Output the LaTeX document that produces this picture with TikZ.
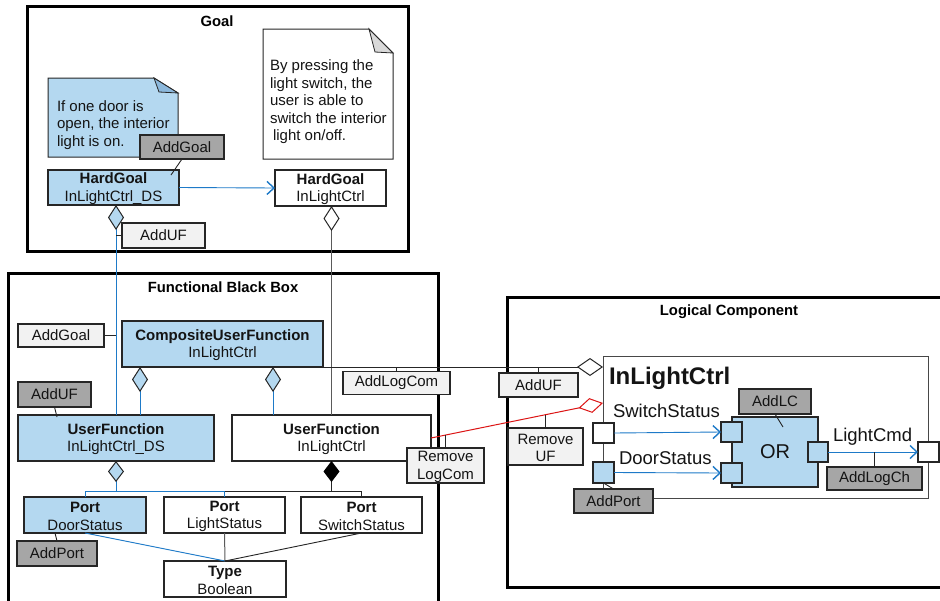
\documentclass[tikz,border=0pt]{standalone}
\usepackage{fontspec}
\setmainfont{Liberation Sans}
\usetikzlibrary{arrows.meta,calc}
\definecolor{lblue}{RGB}{180,216,240}
\definecolor{dblue}{RGB}{140,184,220}
\definecolor{lnblue}{RGB}{30,122,200}
\definecolor{dgrey}{RGB}{166,166,166}
\definecolor{lgrey}{RGB}{242,242,242}
\definecolor{edge}{RGB}{38,38,38}
\definecolor{txtc}{RGB}{20,20,20}
\definecolor{gline}{RGB}{90,90,90}
\definecolor{foldgrey}{RGB}{217,217,217}
\definecolor{redl}{RGB}{220,20,20}
\newcommand{\flstrut}{\rule{0pt}{13.5pt}}
\begin{document}
\begin{tikzpicture}[x=1pt,y=-1pt,line join=miter,
  every node/.style={font=\fontsize{15}{17.5}\selectfont,text=txtc,inner sep=0pt,outer sep=0pt},
  bx/.style 2 args={draw=edge,line width=1.1pt,minimum width=#1,minimum height=#2,align=center},
  bluebox/.style={fill=lblue},
  dbox/.style={fill=dgrey},
  lbox/.style={fill=lgrey},
  wbox/.style={fill=white},
  frame/.style={draw=black,line width=3pt},
  title/.style={font=\fontsize{14.8}{18}\selectfont\bfseries,text=black},
  conn/.style={draw=edge,line width=0.9pt},
  bconn/.style={draw=lnblue,line width=0.9pt},
  gconn/.style={draw=gline,line width=1pt},
  rconn/.style={draw=redl,line width=1pt},
  barb/.style={-{Straight Barb[length=7pt,width=13pt,line width=1.4pt]}},
  dmdBA/.style={-{Diamond[length=25pt,width=16pt,color=edge,fill=lblue,line width=1pt]}},
  dmdWA/.style={-{Diamond[length=25pt,width=16pt,color=edge,fill=white,line width=1pt]}},
  dmdBB/.style={-{Diamond[length=21pt,width=16pt,color=edge,fill=lblue,line width=1pt]}},
  dmdKB/.style={-{Diamond[length=21pt,width=16pt,color=black,fill=black,line width=1pt]}},
  dmdWC/.style={-{Diamond[length=26pt,width=18pt,color=edge,fill=white,line width=1pt]}},
  dmdRC/.style={-{Diamond[length=25pt,width=15pt,color=redl,fill=white,line width=1pt]}},
  small/.style={font=\fontsize{18.5}{22}\selectfont},
]
\useasboundingbox (0,0) rectangle (940,600);
\clip (0,0) rectangle (940,600);
\fill[white] (0,0) rectangle (940,600);

% frames
\draw[frame] (27,6) rectangle (408,251);
\draw[frame] (8,273) rectangle (438,615);
\draw[frame] (507,297) rectangle (960,587);
\node[title] (tGoal) at (217,21) {Goal};
\node[title] (tFBB) at (223,287) {Functional Black Box};
\node[title] (tLC) at (729,312) {Logical Component};

% notes
\draw[draw=edge,line width=1pt,fill=lblue] (48,78) -- (154,78) -- (178,93) -- (178,157) -- (48,157) -- cycle;
\draw[draw=edge,line width=0.8pt,fill=dblue] (154,78) -- (178,93) -- (159,92) -- cycle;
\node[anchor=west,align=left] (note1) at (57,125) {If one door is\\open, the interior\\light is on.};
\draw[draw=edge,line width=1pt,fill=white] (263,29) -- (369,29) -- (393,53) -- (393,159) -- (263,159) -- cycle;
\draw[draw=edge,line width=0.8pt,fill=foldgrey] (369,29) -- (393,53) -- (375,52) -- cycle;
\node[anchor=west,align=left] (note2) at (270,102) {By pressing the\\light switch, the\\user is able to\\switch the interior\\\hspace{3pt}light on/off.};

% Goal nodes
\node[bx={84}{24},dbox] (AG1) at (182,147) {AddGoal};
\node[bx={131}{35},bluebox] (HGDS) at (113.5,187.5) {\flstrut\textbf{HardGoal}\\InLightCtrl\_DS};
\node[bx={111}{36},wbox] (HG) at (330.5,188) {\flstrut\textbf{HardGoal}\\InLightCtrl};
\node[bx={83}{25},lbox] (AU1) at (163.5,235.5) {AddUF};

% FBB nodes
\node[bx={86}{23},lbox] (AG2) at (61,335.5) {AddGoal};
\node[bx={201}{46},bluebox] (CUF) at (222.5,344) {\flstrut\textbf{CompositeUserFunction}\\InLightCtrl};
\node[bx={107}{23},lbox] (ALC) at (396.5,383) {AddLogCom};
\node[bx={73}{25},dbox] (AU2) at (54.5,394.5) {AddUF};
\node[bx={196}{46},bluebox] (UFDS) at (116,438) {\flstrut\textbf{UserFunction}\\InLightCtrl\_DS};
\node[bx={199}{46},wbox] (UFR) at (331.5,438) {\flstrut\textbf{UserFunction}\\InLightCtrl};
\node[bx={77}{35},lbox] (RLC) at (445.5,465.5) {\flstrut Remove\\LogCom};
\node[bx={122}{36},bluebox] (PDS) at (85,515) {\flstrut\textbf{Port}\\DoorStatus};
\node[bx={121}{36},wbox] (PLS) at (224.5,515) {\flstrut\textbf{Port}\\LightStatus};
\node[bx={121}{36},wbox] (PSS) at (361.5,515) {\flstrut\textbf{Port}\\SwitchStatus};
\node[bx={80}{25},dbox] (AP1) at (57,553.5) {AddPort};
\node[bx={122}{36},wbox] (TB) at (225,579) {\flstrut\textbf{Type}\\Boolean};

% LC nodes
\node[bx={79}{24},lbox] (AU3) at (538.5,385) {AddUF};
\node[bx={75}{37},lbox] (RUF) at (545.5,446.5) {\flstrut Remove\\UF};
\node[draw=edge!85,line width=0.8pt,minimum width=325,minimum height=142] (ILC) at (765.5,427) {};
\node[font=\fontsize{24}{28}\selectfont\bfseries,anchor=base west] (ilcT) at (609,384) {InLightCtrl};
\node[small,anchor=base west] (ssT) at (613,417) {SwitchStatus};
\node[small,anchor=base west] (dsT) at (619,464) {DoorStatus};
\node[small,anchor=base west] (lcT) at (833,441) {LightCmd};
\node[bx={72}{25},dbox] (ALC2) at (775,401.5) {AddLC};
\node[bx={86}{70},bluebox,font=\fontsize{20}{24}\selectfont] (OR) at (775,452) {OR};
\node[bx={21}{20},bluebox] (IN1) at (731.5,432) {};
\node[bx={21}{20},bluebox] (IN2) at (731.5,473) {};
\node[bx={20}{20},bluebox] (OUT) at (818,452) {};
\node[bx={21}{20},wbox] (P1) at (603.5,433) {};
\node[bx={21}{21},bluebox] (P2) at (603.5,472.5) {};
\node[bx={21}{20},wbox] (EXT) at (928.5,452) {};
\node[bx={95}{23},dbox] (ALCh) at (874.5,478.5) {AddLogCh};
\node[bx={79}{24},dbox] (AP2) at (613.5,501) {AddPort};

% connectors: Goal
\draw[conn] (AG1.south) -- ([xshift=123pt,yshift=-5pt]HGDS.north west);
\draw[bconn,barb] (HGDS.east) -- (HG.west);
\draw[bconn,dmdBA] (UFDS.north) -- (UFDS.north |- HGDS.south);
\draw[gconn,dmdWA] (UFR.north) -- (UFR.north |- HG.south);
\draw[conn] (AU1.west) -- (AU1.west -| UFDS.north);
\draw[conn] (AG2.east) -- (AG2.east -| UFDS.north);

% connectors: FBB
\coordinate (c1) at ([xshift=18pt]CUF.south west);
\coordinate (c2) at ([xshift=151pt]CUF.south west);
\draw[bconn,dmdBA] (c1 |- UFDS.north) -- (c1);
\draw[bconn,dmdBA] (c2 |- UFR.north) -- (c2);
\draw[conn] (AU2.south) -- ([xshift=39pt,yshift=-2pt]UFDS.north west);
\coordinate (b1) at ([yshift=6pt]PDS.north);
\draw[bconn,dmdBB] (UFDS.south |- b1) -- (UFDS.south);
\draw[conn,dmdKB] (UFR.south |- b1) -- (UFR.south);
\draw[bconn] (PDS.north) -- (b1) -- (b1 -| PLS.north) -- (PLS.north);
\draw[conn] (PLS.north |- b1) -- (PSS.north |- b1) -- (PSS.north);
\draw[conn] (AP1.north) -- ([xshift=31pt]PDS.south west);
\draw[bconn] (PDS.south) -- (TB.north);
\draw[gconn] (PLS.south) -- (TB.north);
\draw[conn] (PSS.south) -- (TB.north);

% connectors: to logical component
\draw[conn,dmdWC] (CUF.south east) -- (CUF.south east -| ILC.west);
\draw[conn] (ALC.north) -- (ALC.north |- CUF.south east);
\draw[conn] (AU3.north) -- (AU3.north |- CUF.south east);
\coordinate (rt) at ([yshift=-47pt]ILC.north west);
\draw[rconn,dmdRC] (UFR.east) -- (rt);
\coordinate (r1) at ($(UFR.east)!0.087!(rt)$);
\coordinate (r2) at ($(UFR.east)!0.667!(rt)$);
\draw[conn] (RLC.north) -- (RLC.north |- r1);
\draw[conn] (RUF.north) -- (RUF.north |- r2);

% connectors: inside logical component
\draw[bconn,barb] (P1.east) -- (IN1.west);
\draw[bconn,barb] (P2.east) -- (IN2.west);
\draw[bconn,barb] (OUT.east) -- (EXT.west);
\draw[conn] (ALC2.south) -- ([xshift=51pt,yshift=-10pt]OR.north west);
\draw[conn] (ALCh.north) -- (ALCh.north |- OUT.east);
\draw[conn] (P2.south) -- (AP2.north);
\end{tikzpicture}
\end{document}
